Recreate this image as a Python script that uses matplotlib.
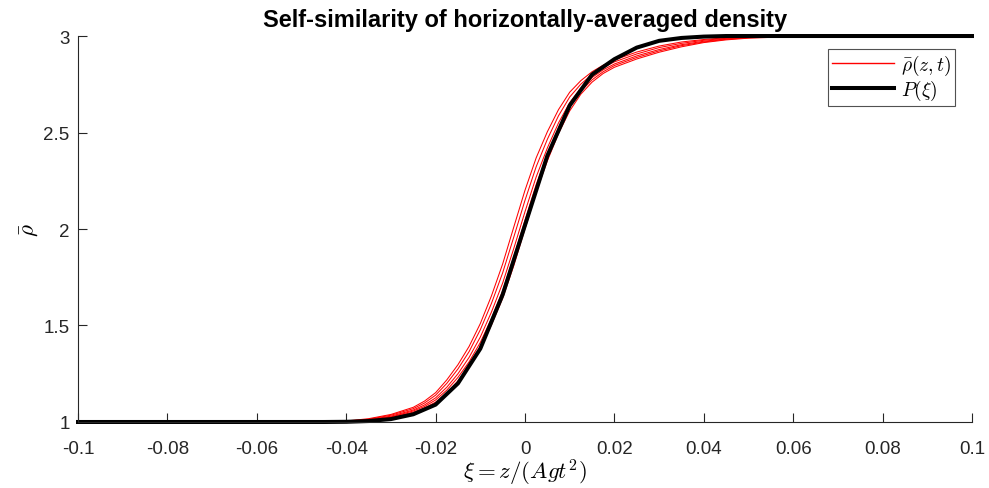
import numpy as np
import matplotlib
matplotlib.use('Agg')
import matplotlib.pyplot as plt

plt.rcParams.update({
    'font.family': 'Liberation Sans',
    'mathtext.fontset': 'cm',
    'axes.edgecolor': '#262626',
    'xtick.color': '#262626', 'ytick.color': '#262626',
})

# similarity variable grid for P(xi)
xi = [-0.1, -0.05, -0.045, -0.04, -0.035, -0.03, -0.025, -0.02, -0.015, -0.01,
      -0.005, 0.0, 0.005, 0.01, 0.015, 0.02, 0.025, 0.03, 0.035, 0.04, 0.045,
      0.05, 0.06, 0.07, 0.1]

# self-similar profile P(xi)
P = [1.0, 1.0, 1.0, 1.001, 1.005, 1.015, 1.04, 1.09, 1.20, 1.38,
     1.66, 2.02, 2.38, 2.64, 2.80, 2.88, 2.94, 2.975, 2.99, 2.997, 3.0,
     3.0, 3.0, 3.0, 3.0]

# grid for the horizontally averaged density curves
xi_r = [-0.1, -0.05, -0.045, -0.04, -0.035, -0.03, -0.025, -0.0225, -0.02,
        -0.0175, -0.015, -0.0125, -0.01, -0.0075, -0.005, -0.0025, 0.0,
        0.0025, 0.005, 0.0075, 0.01, 0.0125, 0.015, 0.0175, 0.02, 0.025,
        0.03, 0.035, 0.04, 0.045, 0.05, 0.06, 0.07, 0.1]

rho1 = [1.0, 1.0, 1.002, 1.005, 1.017, 1.039, 1.076, 1.108, 1.152,
        1.218, 1.297, 1.392, 1.51, 1.654, 1.819, 2.011, 2.201,
        2.369, 2.504, 2.619, 2.709, 2.769, 2.815, 2.849, 2.876, 2.917,
        2.948, 2.969, 2.982, 2.991, 2.996, 2.999, 3.0, 3.0]
rho2 = [1.0, 1.0, 1.001, 1.004, 1.014, 1.035, 1.069, 1.098, 1.139,
        1.20, 1.275, 1.365, 1.478, 1.615, 1.773, 1.959, 2.149,
        2.323, 2.465, 2.587, 2.684, 2.751, 2.801, 2.838, 2.866, 2.907,
        2.94, 2.962, 2.978, 2.988, 2.994, 2.999, 3.0, 3.0]
rho3 = [1.0, 1.0, 1.001, 1.003, 1.012, 1.03, 1.062, 1.088, 1.125,
        1.18, 1.25, 1.335, 1.44, 1.57, 1.72, 1.90, 2.09,
        2.27, 2.42, 2.55, 2.655, 2.73, 2.785, 2.825, 2.855, 2.897,
        2.93, 2.955, 2.973, 2.985, 2.992, 2.998, 3.0, 3.0]
rho4 = [1.0, 1.0, 1.001, 1.002, 1.010, 1.026, 1.057, 1.080, 1.114,
        1.165, 1.231, 1.312, 1.412, 1.536, 1.68, 1.856, 2.046,
        2.23, 2.386, 2.522, 2.633, 2.714, 2.773, 2.815, 2.847, 2.889,
        2.923, 2.950, 2.969, 2.983, 2.991, 2.997, 3.0, 3.0]
rho5 = [1.0, 1.0, 1.0, 1.001, 1.008, 1.023, 1.051, 1.072, 1.103,
        1.15, 1.213, 1.289, 1.384, 1.503, 1.641, 1.811, 2.001,
        2.191, 2.353, 2.495, 2.612, 2.699, 2.761, 2.806, 2.838, 2.881,
        2.916, 2.944, 2.966, 2.98, 2.989, 2.997, 3.0, 3.0]
rho_all = [rho1, rho2, rho3, rho4, rho5]

xticks = [-0.1, -0.08, -0.06, -0.04, -0.02, 0, 0.02, 0.04, 0.06, 0.08, 0.1]
xticklabels = ['-0.1', '-0.08', '-0.06', '-0.04', '-0.02', '0', '0.02', '0.04',
               '0.06', '0.08', '0.1']
yticks = [1, 1.5, 2, 2.5, 3]
yticklabels = ['1', '1.5', '2', '2.5', '3']

fig = plt.figure(figsize=(9.89, 4.89), dpi=100)
ax = fig.add_axes([0.0789, 0.135, 0.9039, 0.7893])

for i, r in enumerate(rho_all):
    ax.plot(xi_r, r, color='#ff0000', lw=0.75, clip_on=False,
            label=r'$\bar{\rho}(z,t)$' if i == 0 else None)
ax.plot(xi, P, color='black', lw=2.9, clip_on=False, label=r'$P(\xi)$')

ax.set_xlim(-0.1, 0.1)
ax.set_ylim(1, 3)
ax.set_xticks(xticks)
ax.set_xticklabels(xticklabels)
ax.set_yticks(yticks)
ax.set_yticklabels(yticklabels)
ax.tick_params(direction='in', length=6.5, labelsize=13.5, width=0.8)
ax.tick_params(axis='x', pad=13)
ax.tick_params(axis='y', pad=6)
for s in ['top', 'right']:
    ax.spines[s].set_visible(False)

ax.set_xlabel(r'$\xi = z/(Agt^2)$', fontsize=16.5, labelpad=0)
ax.set_ylabel(r'$\bar{\rho}$', fontsize=16.5, labelpad=2)
ax.set_title('Self-similarity of horizontally-averaged density',
             fontsize=17, fontweight='bold', pad=7)

leg = ax.legend(loc='upper right', bbox_to_anchor=(0.981, 0.966), fontsize=14,
                frameon=True, fancybox=False, borderpad=0.2, borderaxespad=0,
                handlelength=3.2, labelspacing=0.02, handletextpad=0.35)
leg.get_frame().set_edgecolor('#262626')
leg.get_frame().set_linewidth(0.8)
leg.get_lines()[0].set_linewidth(1.0)

fig.savefig('out.png', dpi=100)
